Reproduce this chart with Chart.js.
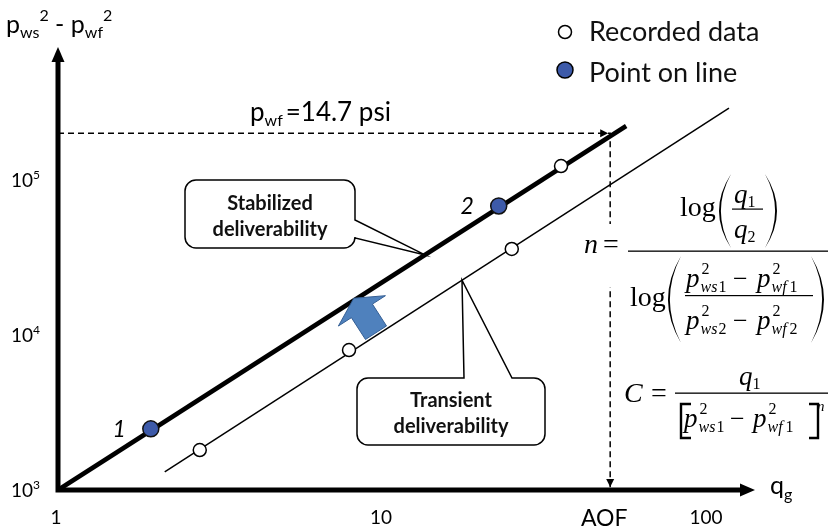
<!DOCTYPE html>
<html>
<head>
<meta charset="utf-8">
<title>Gas well deliverability</title>
<script src="https://cdn.jsdelivr.net/npm/chart.js@4.4.1/dist/chart.umd.min.js"></script>
<style>
  html, body { margin: 0; padding: 0; background: #fff; }
  #wrap { position: relative; width: 830px; height: 529px; }
</style>
</head>
<body>
<div id="wrap"><canvas id="c" width="830" height="529"></canvas></div>
<script>
// Back-pressure (deliverability) plot on log-log axes
const xRange = [1, 139.5];          // q_g axis extent
const yRange = [1000, 721000];      // p_ws^2 - p_wf^2 axis extent
const xTicks = [1, 10, 100];
const yTicks = [1e3, 1e4, 1e5];
const yTickExp = ['3', '4', '5'];

const recordedQ  = [2.73, 7.86, 24.9, 35.3];
const recordedDp = [1811, 8000, 35900, 123000];
const onLineQ    = [1.93, 22.7];
const onLineDp   = [2480, 68000];
const stabilizedQ  = [1, 56];
const stabilizedDp = [1000, 223000];
const transientQ   = [2.13, 116];
const transientDp  = [1307, 291000];
const pwfAtmDp = 200000;   // p_ws^2 - p_wf^2 with p_wf = 14.7 psi
const aofQ = 50;           // absolute open flow

const SANS = 'Lato, "Open Sans", sans-serif';
const SERIF = '"Liberation Serif", "Times New Roman", serif';
const BLUE = '#3d5aa9';

const pts = (xs, ys) => xs.map((v, i) => ({ x: v, y: ys[i] }));

function run(ctx, x, y, parts) {
  for (const [t, f, dy, gap] of parts) {
    ctx.font = f;
    ctx.fillText(t, x, y + (dy || 0));
    x += ctx.measureText(t).width + (gap || 0);
  }
  return x;
}

function tri(ctx, tx, ty, dx, dy, len, half) {
  const nx = -dy, ny = dx;
  ctx.beginPath();
  ctx.moveTo(tx, ty);
  ctx.lineTo(tx - dx * len + nx * half, ty - dy * len + ny * half);
  ctx.lineTo(tx - dx * len - nx * half, ty - dy * len - ny * half);
  ctx.closePath();
  ctx.fill();
}

function lineYAt(chart, qs, dps, px) {
  const { x, y } = chart.scales;
  const x0 = x.getPixelForValue(qs[0]), x1 = x.getPixelForValue(qs[1]);
  const y0 = y.getPixelForValue(dps[0]), y1 = y.getPixelForValue(dps[1]);
  return y0 + (y1 - y0) * (px - x0) / (x1 - x0);
}

function roundPath(ctx, l, t, r, b, rad, wedge) {
  ctx.beginPath();
  ctx.moveTo(l + rad, t);
  if (wedge && wedge.side === 'top') {
    ctx.lineTo(wedge.a, t); ctx.lineTo(wedge.tx, wedge.ty); ctx.lineTo(wedge.b, t);
  }
  ctx.lineTo(r - rad, t); ctx.arcTo(r, t, r, t + rad, rad);
  if (wedge && wedge.side === 'right') {
    ctx.lineTo(r, wedge.a); ctx.lineTo(wedge.tx, wedge.ty); ctx.lineTo(r, wedge.b);
  }
  ctx.lineTo(r, b - rad); ctx.arcTo(r, b, r - rad, b, rad);
  ctx.lineTo(l + rad, b); ctx.arcTo(l, b, l, b - rad, rad);
  ctx.lineTo(l, t + rad); ctx.arcTo(l, t, l + rad, t, rad);
  ctx.closePath();
  ctx.fillStyle = '#fff';
  ctx.fill();
  ctx.lineWidth = 1.5;
  ctx.strokeStyle = '#000';
  ctx.stroke();
}

function bigParen(ctx, xa, xb, top, bot, open) {
  const mid = (top + bot) / 2, th = 1.9;
  ctx.beginPath();
  if (open) {
    ctx.moveTo(xb, top);
    ctx.quadraticCurveTo(2 * xa - xb, mid, xb, bot);
    ctx.quadraticCurveTo(2 * (xa + th) - xb, mid, xb, top);
  } else {
    ctx.moveTo(xa, top);
    ctx.quadraticCurveTo(2 * xb - xa, mid, xa, bot);
    ctx.quadraticCurveTo(2 * (xb - th) - xa, mid, xa, top);
  }
  ctx.fill();
}

function pTerm(ctx, x, y, sub, num) {
  ctx.font = `italic 27px ${SERIF}`;
  ctx.fillText('p', x, y);
  const sx = x + ctx.measureText('p').width + 1;
  ctx.font = `16px ${SERIF}`;
  ctx.fillText('2', sx + 1, y - 13);
  const gap = sub === 'wf' ? 3 : 1;
  return run(ctx, sx, y + 5, [[sub, `italic 16px ${SERIF}`, 0, gap], [num, `16px ${SERIF}`]]);
}

const decor = {
  id: 'decor',
  beforeDatasetsDraw(chart) {
    const ctx = chart.ctx;
    ctx.save();
    // callout boxes
    const sx = 425, sy = lineYAt(chart, stabilizedQ, stabilizedDp, sx);
    roundPath(ctx, 185, 180, 355, 248, 11, { side: 'right', a: 220, b: 238, tx: sx, ty: sy });
    const tx = 462, ty = lineYAt(chart, transientQ, transientDp, tx);
    roundPath(ctx, 357, 378, 545, 445, 11, { side: 'top', a: 464, b: 512, tx: tx, ty: ty });
    ctx.fillStyle = '#111';
    ctx.textAlign = 'center';
    ctx.font = `bold 20px ${SANS}`;
    ctx.fillText('Stabilized', 270, 210);
    ctx.fillText('deliverability', 270, 236);
    ctx.fillText('Transient', 451, 407);
    ctx.fillText('deliverability', 451, 433);
    ctx.restore();
  },
  afterDatasetsDraw(chart) {
    const { ctx, chartArea: a, scales: { x, y } } = chart;
    ctx.save();
    ctx.fillStyle = '#000';
    ctx.strokeStyle = '#000';
    ctx.textAlign = 'left';
    ctx.textBaseline = 'alphabetic';

    // axes with arrowheads
    ctx.lineWidth = 5;
    ctx.beginPath();
    ctx.moveTo(a.left, a.bottom + 2.5);
    ctx.lineTo(a.left, a.top + 12);
    ctx.moveTo(a.left - 2.5, a.bottom);
    ctx.lineTo(a.right - 12, a.bottom);
    ctx.stroke();
    tri(ctx, a.left, a.top, 0, -1, 15, 6.5);
    tri(ctx, a.right, a.bottom, 1, 0, 15, 6.5);

    // arrowheads on the p_wf = 14.7 psi / AOF guide
    const gx = x.getPixelForValue(aofQ), gy = y.getPixelForValue(pwfAtmDp);
    tri(ctx, gx - 2, gy, 1, 0, 8, 4);
    tri(ctx, gx, a.bottom - 3, 0, 1, 8, 4);

    // shift arrow from transient towards stabilized line
    const bx = 376;
    const ty0 = lineYAt(chart, transientQ, transientDp, 100), ty1 = lineYAt(chart, transientQ, transientDp, 700);
    let dx = 600, dy = ty1 - ty0;
    const L = Math.hypot(dx, dy); dx /= L; dy /= L;
    const nx = dy, ny = -dx;
    const bY = lineYAt(chart, transientQ, transientDp, bx) - 3;
    const P = (u, v) => [bx + nx * u + dx * v, bY + ny * u + dy * v];
    const poly = [P(0, -12.5), P(26, -12.5), P(26, -28), P(41, 0), P(26, 28), P(26, 12.5), P(0, 12.5)];
    ctx.beginPath();
    poly.forEach((p, i) => i ? ctx.lineTo(p[0], p[1]) : ctx.moveTo(p[0], p[1]));
    ctx.closePath();
    ctx.fillStyle = '#4f81bd';
    ctx.fill();
    ctx.lineWidth = 1;
    ctx.strokeStyle = '#355f94';
    ctx.stroke();
    ctx.fillStyle = '#000';

    // tick labels
    ctx.font = `19px ${SANS}`;
    ctx.textAlign = 'center';
    xTicks.forEach(v => ctx.fillText(String(v), x.getPixelForValue(v) - 2, 524));
    ctx.textAlign = 'left';
    yTicks.forEach((v, i) => {
      const py = y.getPixelForValue(v);
      run(ctx, 11, py + 7, [['10', `19px ${SANS}`], [yTickExp[i], `12px ${SANS}`, -8]]);
    });

    // axis titles
    run(ctx, 6, 33, [['p', `25px ${SANS}`], ['ws', `16px ${SANS}`, 5], ['2', `16px ${SANS}`, -12],
      [' - ', `25px ${SANS}`], ['p', `25px ${SANS}`], ['wf', `16px ${SANS}`, 5], ['2', `16px ${SANS}`, -12]]);
    run(ctx, 770, 494, [['q', `25px ${SANS}`], ['g', `16px ${SANS}`, 6]]);
    ctx.textAlign = 'center';
    ctx.font = `23px ${SANS}`;
    ctx.fillText('AOF', gx - 6, 526);
    ctx.textAlign = 'left';

    // p_wf = 14.7 psi label
    run(ctx, 250, 121, [['p', `26px ${SANS}`], ['wf', `16px ${SANS}`, 5, 3], ['=14.7 psi', `26px ${SANS}`]]);

    // point numbers
    ctx.font = `italic 23px ${SANS}`;
    ctx.textAlign = 'right';
    onLineQ.forEach((q, i) => {
      ctx.fillText(String(i + 1), x.getPixelForValue(q) - 25, y.getPixelForValue(onLineDp[i]) + 8);
    });
    ctx.textAlign = 'left';

    // legend
    ctx.lineWidth = 1.5;
    ctx.strokeStyle = '#000';
    ctx.beginPath(); ctx.arc(565, 32, 6.5, 0, Math.PI * 2);
    ctx.fillStyle = '#fff'; ctx.fill(); ctx.stroke();
    ctx.beginPath(); ctx.arc(565, 70, 8, 0, Math.PI * 2);
    ctx.fillStyle = BLUE; ctx.fill(); ctx.stroke();
    ctx.fillStyle = '#111';
    ctx.font = `27px ${SANS}`;
    ctx.fillText('Recorded data', 589, 41);
    ctx.fillText('Point on line', 589, 82);

    // exponent n formula
    ctx.fillStyle = '#fff';
    ctx.fillRect(580, 224, 48, 63);
    ctx.fillStyle = '#000';
    ctx.font = `italic 28px ${SERIF}`;
    ctx.fillText('n', 584, 253);
    ctx.font = `28px ${SERIF}`;
    ctx.fillText('=', 603, 253);
    ctx.fillRect(628, 250.5, 200, 1.3);
    ctx.font = `28px ${SERIF}`;
    ctx.fillText('log', 680, 216);
    bigParen(ctx, 719, 731, 174, 248, true);
    run(ctx, 734, 203, [['q', `italic 27px ${SERIF}`], ['1', `16px ${SERIF}`, 4]]);
    ctx.fillRect(732, 208.5, 31, 1.2);
    run(ctx, 734, 238, [['q', `italic 27px ${SERIF}`], ['2', `16px ${SERIF}`, 4]]);
    bigParen(ctx, 765, 777, 174, 248, false);
    ctx.font = `28px ${SERIF}`;
    ctx.fillText('log', 630, 306);
    bigParen(ctx, 668, 681, 256, 343, true);
    pTerm(ctx, 686, 287, 'ws', '1');
    ctx.font = `26px ${SERIF}`; ctx.fillText('\u2212', 733, 287);
    pTerm(ctx, 757, 287, 'wf', '1');
    ctx.fillRect(685, 295, 128, 1.2);
    pTerm(ctx, 686, 329, 'ws', '2');
    ctx.font = `26px ${SERIF}`; ctx.fillText('\u2212', 733, 329);
    pTerm(ctx, 757, 329, 'wf', '2');
    bigParen(ctx, 811, 824, 256, 343, false);

    // coefficient C formula
    ctx.font = `italic 28px ${SERIF}`;
    ctx.fillText('C', 624, 402);
    ctx.font = `28px ${SERIF}`;
    ctx.fillText('=', 651, 402);
    ctx.fillRect(675, 392.5, 153, 1.3);
    run(ctx, 739, 385, [['q', `italic 27px ${SERIF}`], ['1', `16px ${SERIF}`, 4]]);
    ctx.lineWidth = 2.4;
    ctx.beginPath();
    ctx.moveTo(691, 404); ctx.lineTo(681, 404); ctx.lineTo(681, 438); ctx.lineTo(691, 438);
    ctx.moveTo(809, 404); ctx.lineTo(818, 404); ctx.lineTo(818, 438); ctx.lineTo(809, 438);
    ctx.stroke();
    pTerm(ctx, 684, 427, 'ws', '1');
    ctx.font = `26px ${SERIF}`; ctx.fillText('\u2212', 730, 427);
    pTerm(ctx, 753, 427, 'wf', '1');
    ctx.font = `italic 15px ${SERIF}`;
    ctx.fillText('n', 817, 411);

    ctx.restore();
  }
};

new Chart(document.getElementById('c'), {
  type: 'scatter',
  data: {
    datasets: [
      {
        label: 'Point on line',
        data: pts(onLineQ, onLineDp),
        pointRadius: 8, pointBackgroundColor: BLUE,
        pointBorderColor: '#111', pointBorderWidth: 1.5, clip: false
      },
      {
        label: 'Recorded data',
        data: pts(recordedQ, recordedDp),
        pointRadius: 6.5, pointBackgroundColor: '#fff',
        pointBorderColor: '#000', pointBorderWidth: 1.5, clip: false
      },
      {
        label: 'Stabilized deliverability',
        data: pts(stabilizedQ, stabilizedDp),
        showLine: true, borderColor: '#000', borderWidth: 4.5,
        pointRadius: 0, clip: false
      },
      {
        label: 'Transient deliverability',
        data: pts(transientQ, transientDp),
        showLine: true, borderColor: '#000', borderWidth: 1.5,
        pointRadius: 0, clip: false
      },
      {
        label: 'p_wf = 14.7 psi',
        data: [{ x: xRange[0], y: pwfAtmDp }, { x: aofQ, y: pwfAtmDp }, { x: aofQ, y: yRange[0] }],
        showLine: true, borderColor: '#000', borderWidth: 1.5, borderDash: [6, 4],
        pointRadius: 0, clip: false
      }
    ]
  },
  options: {
    responsive: false,
    animation: false,
    devicePixelRatio: 1,
    events: [],
    layout: { padding: { left: 58, right: 75, top: 47, bottom: 39 } },
    plugins: { legend: { display: false }, tooltip: { enabled: false } },
    scales: {
      x: { type: 'logarithmic', min: xRange[0], max: xRange[1], display: false },
      y: { type: 'logarithmic', min: yRange[0], max: yRange[1], display: false }
    }
  },
  plugins: [decor]
});
</script>
</body>
</html>
